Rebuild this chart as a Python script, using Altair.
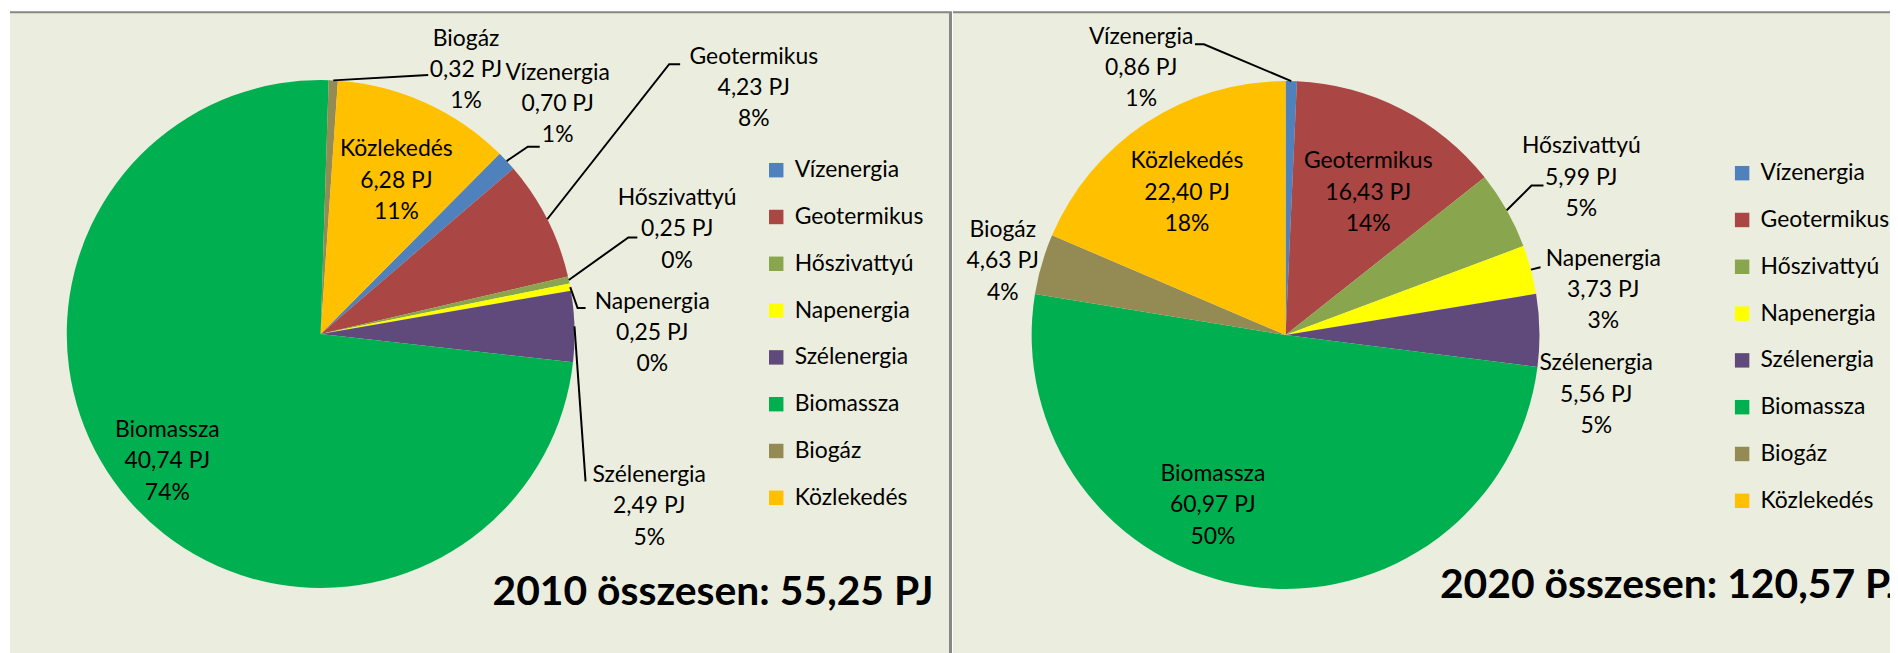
import math
import altair as alt
import pandas as pd

# ---------------- data ----------------
categories = ["Vízenergia", "Geotermikus", "Hőszivattyú", "Napenergia",
              "Szélenergia", "Biomassza", "Biogáz", "Közlekedés"]
values_2010 = [0.70, 4.23, 0.25, 0.25, 2.49, 40.74, 0.32, 6.28]
values_2020 = [0.86, 16.43, 5.99, 3.73, 5.56, 60.97, 4.63, 22.40]
pct_2010 = [1, 8, 0, 0, 5, 74, 1, 11]
pct_2020 = [1, 14, 5, 3, 5, 50, 4, 18]
total_2010 = "55,25"
total_2020 = "120,57"
colors = ["#4F81BD", "#AA4643", "#89A54E", "#FFFF00",
          "#604A7B", "#00B050", "#948A54", "#FFC000"]

# ---------------- layout ----------------
W, H = 1890, 645
FONT = "Lato"
FS = 23
LH = 31.5
BG = "#EBEEDE"
BORDER = "#878787"

pies = {
    "2010": dict(values=values_2010, pct=pct_2010, cx=322, cy=334, r=255,
                 start_deg=44.8, legend=(760, 150), channel="color", field="kat2010",
                 title=f"2010 összesen: {total_2010} PJ", title_xy=(716, 594), title_align="center"),
    "2020": dict(values=values_2020, pct=pct_2020, cx=1291, cy=335, r=255,
                 start_deg=0.0, legend=(1730, 153), channel="fill", field="kat2020",
                 title=f"2020 összesen: {total_2020} PJ", title_xy=(1446, 587), title_align="left"),
}

# label anchor (centre of middle line) and leader-line waypoints (page px)
label_layout = {
    "2010": {
        "Biogáz": ((468, 69), [(430, 74)]),
        "Vízenergia": ((560, 103), [(530, 146), (542, 146)]),
        "Geotermikus": ((757, 87), [(672, 63), (683, 63)]),
        "Hőszivattyú": ((680, 229), [(631, 237), (640, 237)]),
        "Napenergia": ((655, 333), [(580, 308), (588, 308)]),
        "Szélenergia": ((652, 507), [(588, 482)]),
        "Közlekedés": ((398, 180), None),
        "Biomassza": ((168, 462), None),
    },
    "2020": {
        "Vízenergia": ((1146, 67), [(1209, 43), (1200, 43)]),
        "Közlekedés": ((1192, 192), None),
        "Geotermikus": ((1374, 192), None),
        "Hőszivattyú": ((1588, 177), [(1538, 185), (1550, 185)]),
        "Napenergia": ((1610, 290), [(1547, 267)]),
        "Szélenergia": ((1603, 395), None),
        "Biogáz": ((1007, 261), None),
        "Biomassza": ((1218, 506), None),
    },
}


def fmt(v):
    return f"{v:.2f}".replace(".", ",")


xs = alt.Scale(domain=[8, 8 + W], range=[0, W], nice=False, zero=False)
ys = alt.Scale(domain=[8, 8 + H], range=[0, H], nice=False, zero=False)
theta_scale = alt.Scale(domain=[0, 1], range=[0, 2 * math.pi], zero=False, nice=False)

# panels
panels_bg = pd.DataFrame([
    dict(x0=10, x1=953, y0=10, y1=700),
    dict(x0=957, x1=1960, y0=10, y1=700),
])
panels_border = pd.DataFrame([
    dict(x0=10, x1=953, y0=10, y1=12),
    dict(x0=957, x1=1960, y0=10, y1=12),
    dict(x0=953, x1=956, y0=10, y1=700),
])


def rect_layer(df, fill):
    return alt.Chart(df).mark_rect(color=fill).encode(
        x=alt.X("x0:Q", scale=xs, axis=None), x2="x1:Q",
        y=alt.Y("y0:Q", scale=ys, axis=None), y2="y1:Q",
    )


label_rows, leader_rows, title_rows = [], [], []
arc_layers = []

for year, p in pies.items():
    vals = p["values"]
    total = sum(vals)
    fld = p["field"]
    df = pd.DataFrame({fld: categories, "val": vals, "idx": list(range(len(vals)))})
    off = p["start_deg"] / 360.0
    lx, ly = p["legend"]
    legend = alt.Legend(orient="none", legendX=lx, legendY=ly,
                        title=None, symbolType="square",
                        symbolSize=210, symbolStrokeWidth=0,
                        symbolOpacity=1,
                        labelFont=FONT, labelFontSize=FS,
                        labelColor="black", labelOffset=7,
                        rowPadding=23, padding=0, labelLimit=400)
    if p["channel"] == "color":
        col = {"color": alt.Color(f"{fld}:N",
                                  scale=alt.Scale(domain=categories, range=colors),
                                  legend=legend)}
    else:
        col = {"fill": alt.Fill(f"{fld}:N", sort=categories,
                                scale=alt.Scale(range=colors),
                                legend=legend)}
    arc = alt.Chart(df).transform_joinaggregate(
        total="sum(val)"
    ).transform_window(
        cum="sum(val)", sort=[alt.SortField("idx")], frame=[None, 0]
    ).transform_calculate(
        t0=f"{off} + (datum.cum - datum.val) / datum.total",
        t1=f"{off} + datum.cum / datum.total",
    ).mark_arc(radius=p["r"], strokeWidth=0).encode(
        x=alt.value(p["cx"] - 8),
        y=alt.value(p["cy"] - 8),
        theta=alt.Theta("t0:Q", scale=theta_scale),
        theta2="t1:Q",
        **col,
    )
    arc_layers.append(arc)

    start = math.radians(p["start_deg"])
    cum = 0.0
    for i, cat in enumerate(categories):
        v = vals[i]
        mid = start + 2 * math.pi * (cum + v / 2) / total
        cum += v
        (tx, ty), pts = label_layout[year][cat]
        label_rows.append(dict(x=tx, y=ty - LH,
                               text=f"{cat}\n{fmt(v)} PJ\n{p['pct'][i]}%"))
        if pts:
            sx = p["cx"] + p["r"] * math.sin(mid)
            sy = p["cy"] - p["r"] * math.cos(mid)
            lid = f"{year}-{cat}"
            allpts = [(sx, sy)] + pts
            for k, (px, py) in enumerate(allpts):
                leader_rows.append(dict(lid=lid, k=k, x=px, y=py))
    title_rows.append(dict(x=p["title_xy"][0], y=p["title_xy"][1],
                           text=p["title"], align=p["title_align"]))

labels = pd.DataFrame(label_rows)
leaders = pd.DataFrame(leader_rows)

leader_layer = alt.Chart(leaders).mark_line(color="black", strokeWidth=2).encode(
    x=alt.X("x:Q", scale=xs, axis=None),
    y=alt.Y("y:Q", scale=ys, axis=None),
    detail="lid:N",
    order="k:Q",
)

label_layer = alt.Chart(labels).mark_text(
    font=FONT, fontSize=FS, lineBreak="\n", lineHeight=LH,
    align="center", baseline="middle", color="black",
).encode(
    x=alt.X("x:Q", scale=xs, axis=None),
    y=alt.Y("y:Q", scale=ys, axis=None),
    text="text:N",
)

title_layers = []
for t in title_rows:
    title_layers.append(
        alt.Chart(pd.DataFrame([t])).mark_text(
            font=FONT, fontSize=41, fontWeight="bold", align=t["align"],
            baseline="middle", color="black",
        ).encode(
            x=alt.X("x:Q", scale=xs, axis=None),
            y=alt.Y("y:Q", scale=ys, axis=None),
            text="text:N",
        )
    )

chart = alt.layer(
    rect_layer(panels_bg, BG), rect_layer(panels_border, BORDER),
    *arc_layers, leader_layer, label_layer, *title_layers
).properties(
    width=W, height=H, autosize=alt.AutoSizeParams(type="none"), padding=0,
    background="white",
).configure_view(stroke=None)

chart.save("out.html", embed_options={"renderer": "svg", "actions": False})
